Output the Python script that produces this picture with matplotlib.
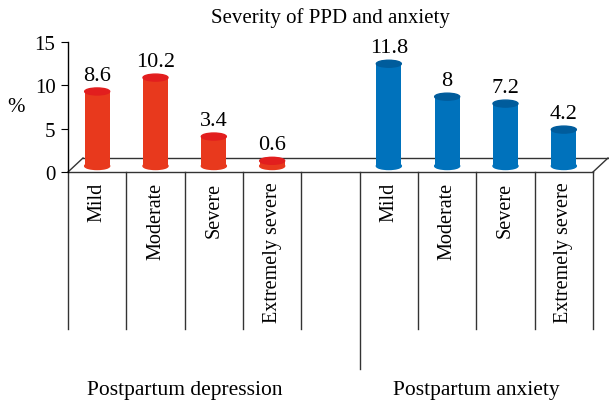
import matplotlib
matplotlib.use("Agg")
from matplotlib import pyplot as plt
from matplotlib.patches import Ellipse

plt.rcParams['font.family'] = ['Liberation Serif', 'DejaVu Serif']

# data
categories = ["Mild", "Moderate", "Severe", "Extremely severe"]
ppd_values = [8.6, 10.2, 3.4, 0.6]
anx_values = [11.8, 8, 7.2, 4.2]
ppd_labels = ["8.6", "10.2", "3.4", "0.6"]
anx_labels = ["11.8", "8", "7.2", "4.2"]
groups = ["Postpartum depression", "Postpartum anxiety"]
yticks = [0, 5, 10, 15]

red, red_top = "#E8391D", "#E21E1E"
blue, blue_top = "#0072BC", "#005C9C"

W, H = 609, 402
fig = plt.figure(figsize=(W / 100, H / 100), dpi=100)
ax = fig.add_axes([68 / W, (H - 173) / H, (593 - 68) / W, 130 / H])
ax.set_xlim(0, 9)
ax.set_ylim(0, 15)

px_x = 9 / (593 - 68)      # data units per pixel
px_y = 15 / 130
base = 6 * px_y            # cylinders stand mid-depth on the floor
bar_w = 25 * px_x
ell_h = 7 * px_y

def cylinders(xs, vals, labels, c, ctop):
    ax.bar(xs, vals, width=bar_w, bottom=base, color=c, zorder=3, clip_on=False)
    for x, v, lab in zip(xs, vals, labels):
        ax.add_patch(Ellipse((x, base), bar_w, ell_h, color=c, zorder=2, clip_on=False))
        ax.add_patch(Ellipse((x, base + v), bar_w, ell_h, color=ctop, zorder=4, clip_on=False))
        ax.annotate(lab, (x, base + v), xytext=(0, 5), textcoords="offset points",
                    ha="center", va="bottom", fontsize=16, annotation_clip=False)

ppd_x = [i + 0.5 for i in range(4)]
anx_x = [i + 5.5 for i in range(4)]
cylinders(ppd_x, ppd_values, ppd_labels, red, red_top)
cylinders(anx_x, anx_values, anx_labels, blue, blue_top)

# floor
dx, dy = 15 * px_x, 14 * px_y
kw = dict(color="#333333", lw=1, clip_on=False, zorder=1)
ax.plot([0, 9], [0, 0], **kw)
ax.plot([dx, 9 + dx + 2 * px_x], [dy, dy], **kw)
ax.plot([0, dx], [0, dy], **kw)
ax.plot([9, 9 + dx], [0, dy], **kw)

for s in ["top", "right", "bottom"]:
    ax.spines[s].set_visible(False)
ax.spines["left"].set_linewidth(1)
ax.set_yticks(yticks)
ax.set_xticks([])
ax.tick_params(axis="y", length=5, labelsize=15, pad=4)
ax.set_ylabel("%", rotation=0, fontsize=15, va="center")
ax.yaxis.set_label_coords(-0.1, 0.5)

# category labels and separators
trans = ax.get_xaxis_transform()
for x, lab in zip(ppd_x + anx_x, categories + categories):
    ax.annotate(lab, (x, 0), xytext=(0, -7), textcoords="offset points",
                rotation=90, ha="center", va="top", fontsize=14.5, annotation_clip=False)
for b in range(10):
    low = -(370 - 173) / 130 if b == 5 else -(330 - 173) / 130
    ax.plot([b, b], [0, low], transform=trans, color="#333333", lw=1, clip_on=False)

ax.text(2, -(390 - 173) / 130, groups[0], transform=trans, ha="center", va="center", fontsize=15.5)
ax.text(7, -(390 - 173) / 130, groups[1], transform=trans, ha="center", va="center", fontsize=15.5)

fig.text(330 / W, 1 - 18 / H, "Severity of PPD and anxiety", ha="center", va="center", fontsize=15)

fig.savefig("out.png", dpi=100)
